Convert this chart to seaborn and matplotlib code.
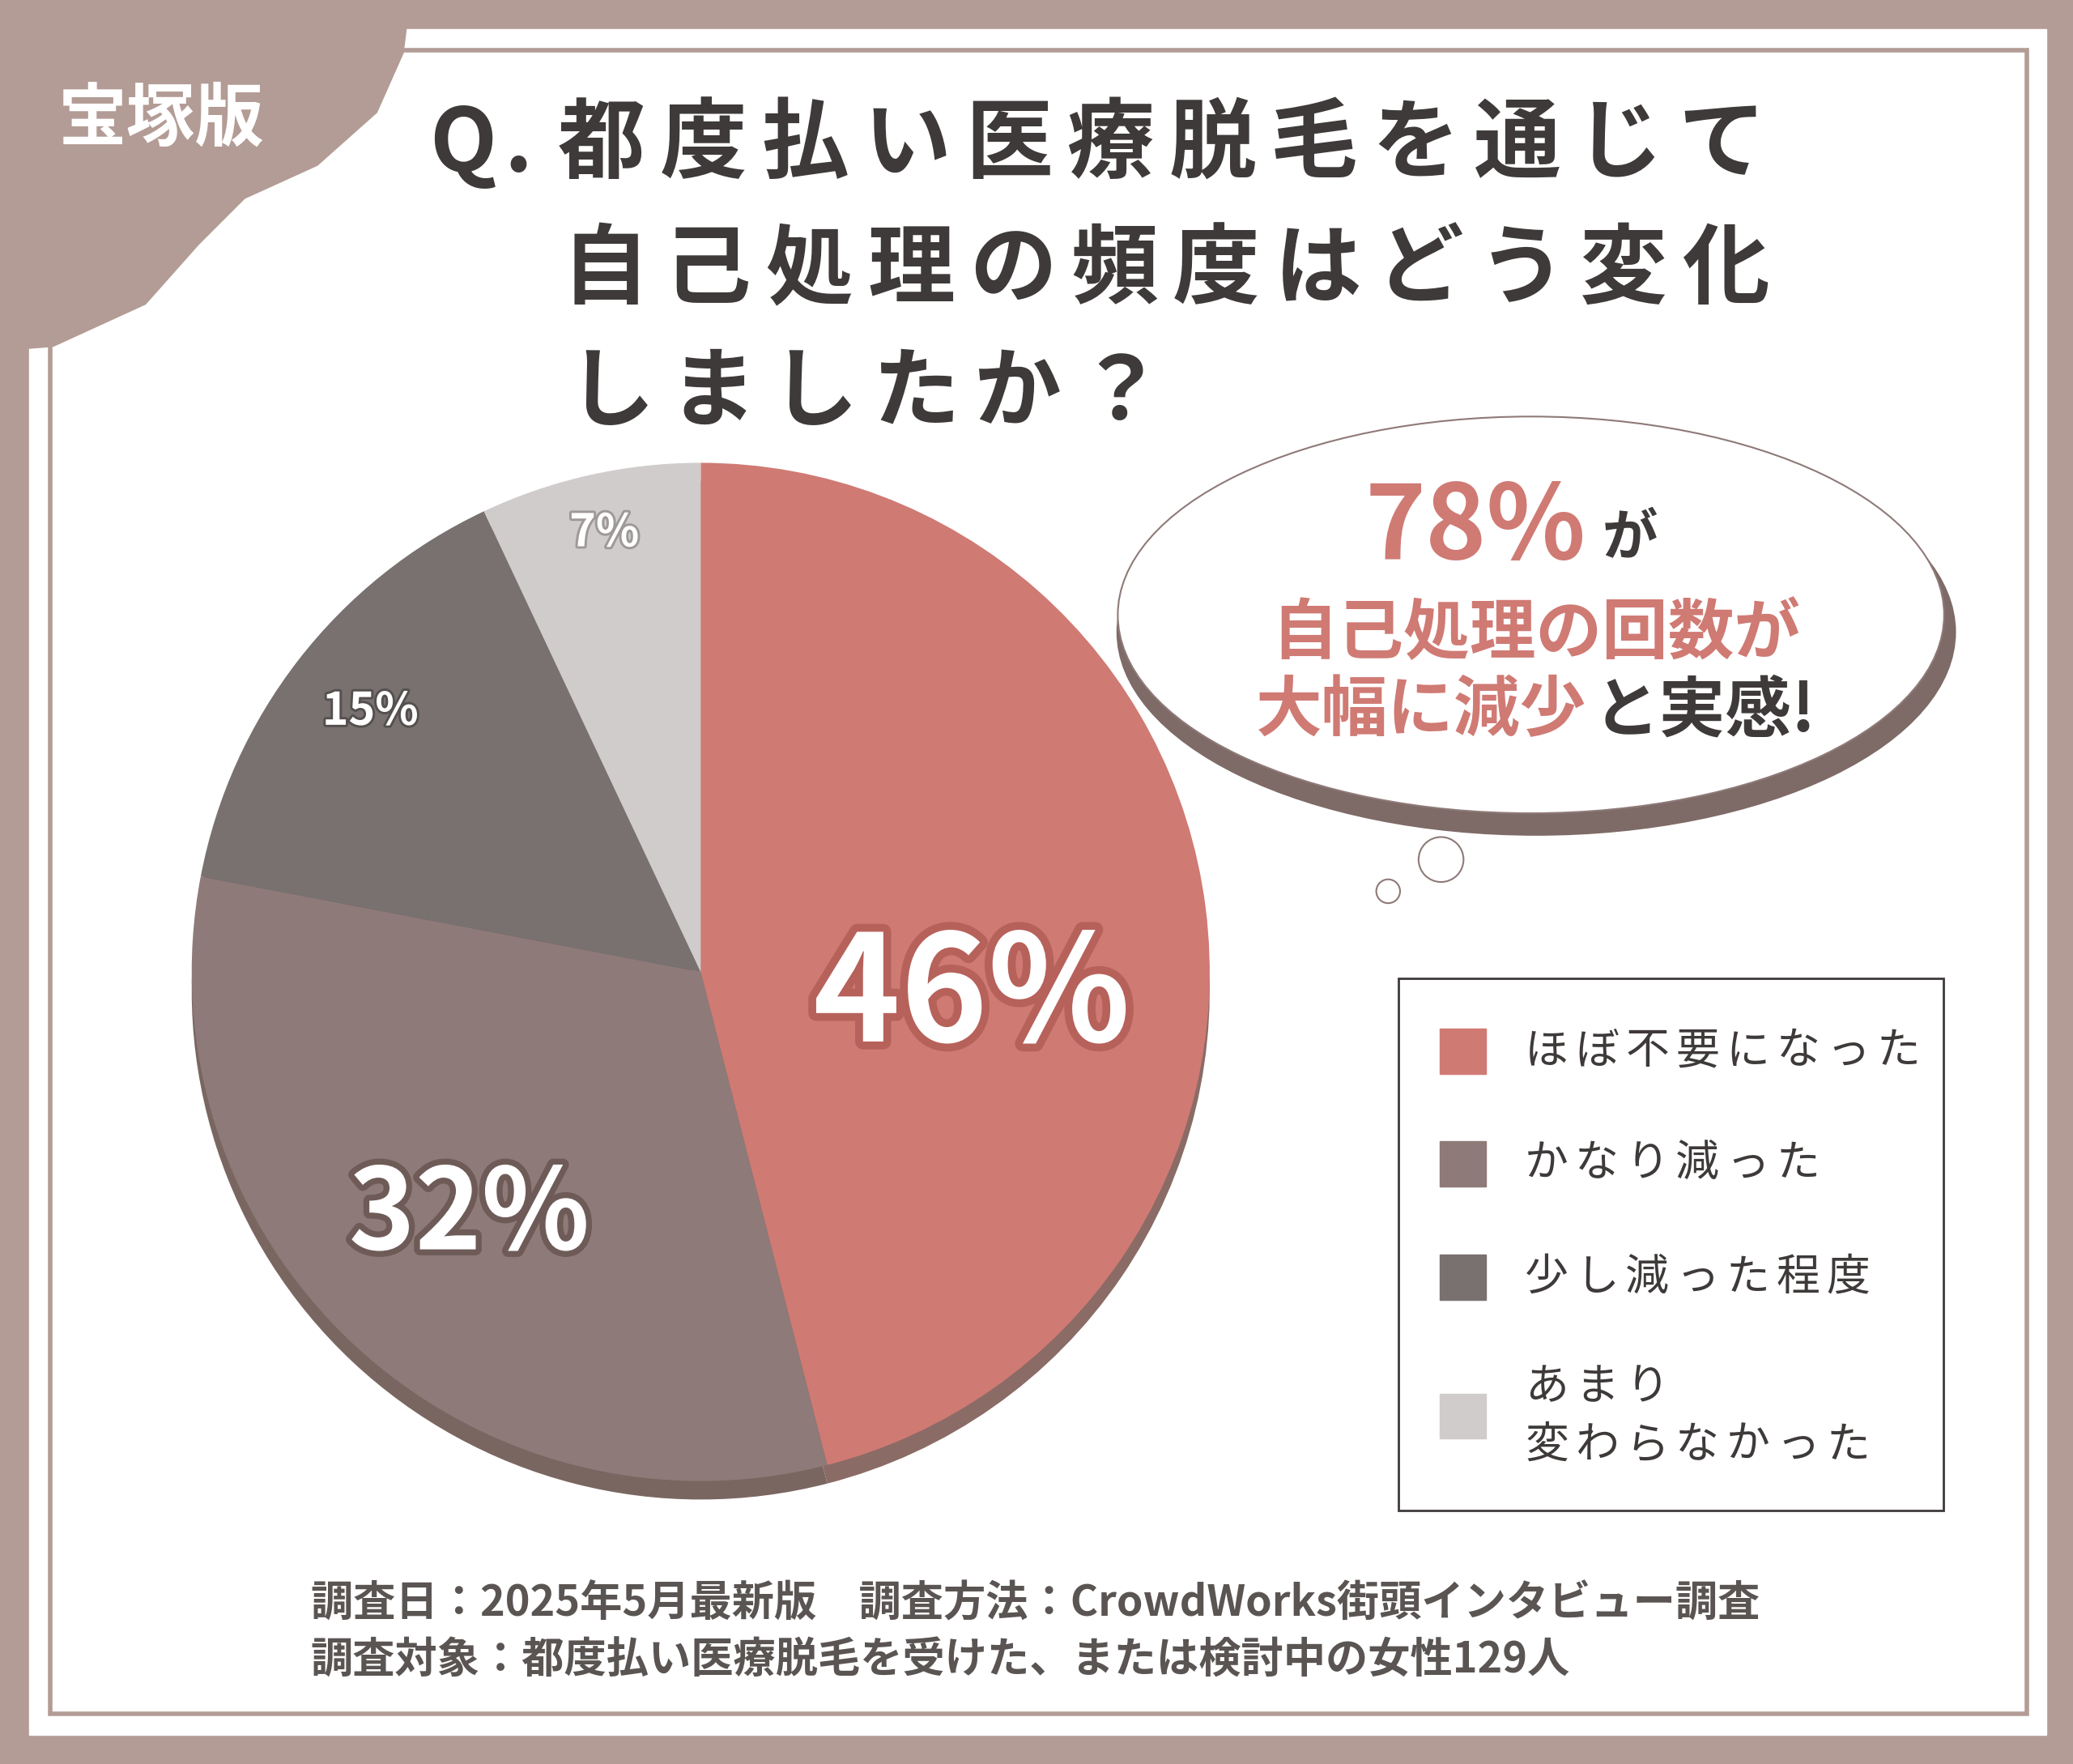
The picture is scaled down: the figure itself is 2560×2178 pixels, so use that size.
import matplotlib
matplotlib.use("Agg")
import matplotlib.pyplot as plt
import matplotlib.patches as mp
import matplotlib.patheffects as pe
import seaborn as sns

categories = ["ほぼ不要になった", "かなり減った", "少し減った程度", "あまり\n変わらなかった"]
values = [46, 32, 15, 7]
colors = ["#D07A74", "#8E7A78", "#787170", "#CFCCCB"]
shadow_colors = ["#8A6B66", "#7A6661", "#6A5F5C", "#A9A3A1"]

sns.set_theme(style="white", rc={"font.family": "Noto Sans CJK JP"})
S = 2560 / 1568
def fs(px): return px * S * 0.72

fig = plt.figure(figsize=(25.6, 21.78), dpi=100)
ax = fig.add_axes([0, 0, 1, 1])
ax.set_xlim(0, 1568); ax.set_ylim(1334, 0); ax.axis("off")
ax.set_aspect("equal")

def spaced(text, x0, y, step, **kw):
    for i, ch in enumerate(text):
        ax.text(x0 + i * step, y, ch, ha="center", va="center", **kw)

BR = "#B39C95"
ax.add_patch(mp.Rectangle((0, 0), 1568, 1334, color=BR, zorder=0))
ax.add_patch(mp.Rectangle((22, 22), 1526, 1290, color="white", zorder=0.1))
ax.add_patch(mp.Rectangle((38, 38), 1495, 1258, fill=False, ec=BR, lw=4, zorder=0.2))
blob = mp.Polygon([(0, 0), (310, 0), (305, 40), (285, 85), (240, 125), (185, 150),
                   (150, 185), (110, 230), (40, 262), (0, 265)], closed=True, color=BR, zorder=0.3)
ax.add_patch(blob)
ax.text(122, 90, "宝塚版", color="white", fontsize=fs(52), fontweight="bold", ha="center", va="center", zorder=5)

tc = "#3E3A39"
tkw = dict(fontsize=fs(66), fontweight="bold", color=tc)
spaced("Q.", 350, 110, 42, **tkw)
spaced("都度払い医療脱毛を通じて", 455, 110, 77, **tkw)
spaced("自己処理の頻度はどう変化", 458, 205, 77, **tkw)
spaced("しましたか？", 462, 298, 77, **tkw)

C = (530, 735); R = 385
ax.pie(values, colors=shadow_colors, startangle=-90, counterclock=True, center=(C[0], C[1] + 14),
       radius=R, wedgeprops=dict(linewidth=0))
wedges, _ = ax.pie(values, colors=colors, startangle=-90, counterclock=True, center=C,
                   radius=R, wedgeprops=dict(linewidth=0))
ax.set_xlim(0, 1568); ax.set_ylim(1334, 0); ax.set_aspect("equal")

lab = [("46%", 735, 755, 112, "#B7615B"), ("32%", 355, 920, 85, "#6E5B58"),
       ("15%", 280, 538, 34, "#55504F"), ("7%", 457, 403, 34, "#9E9997")]
for t, x, y, s, sc in lab:
    ax.text(x, y, t, fontsize=fs(s), fontweight="bold", color="white", ha="center", va="center",
            path_effects=[pe.withStroke(linewidth=s / 8, foreground=sc)], zorder=6)

ax.add_patch(mp.Ellipse((1162, 478), 635, 308, fc="#7E6A66", ec="none", zorder=2))
ax.add_patch(mp.Ellipse((1158, 465), 625, 300, fc="white", ec="#8E7A78", lw=1.5, zorder=2.1))
ax.add_patch(mp.Circle((1090, 650), 17, fc="white", ec="#8E7A78", lw=1.5, zorder=2.1))
ax.add_patch(mp.Circle((1050, 674), 9, fc="white", ec="#8E7A78", lw=1.5, zorder=2.1))
red = "#D07A74"
ax.text(1200, 400, "78%", fontsize=fs(78), fontweight="bold", color=red, ha="right", va="center", zorder=5)
ax.text(1212, 408, "が", fontsize=fs(42), fontweight="bold", color=tc, ha="left", va="center", zorder=5)
ax.text(1162, 480, "自己処理の回数が", fontsize=fs(50), fontweight="bold", color=red, ha="center", va="center", zorder=5)
ax.text(1200, 538, "大幅に減少", fontsize=fs(50), fontweight="bold", color=red, ha="right", va="center", zorder=5)
ax.text(1205, 538, "と実感!", fontsize=fs(50), fontweight="bold", color=tc, ha="left", va="center", zorder=5)

ax.add_patch(mp.Rectangle((1058, 740), 412, 402, fill=False, ec=tc, lw=2, zorder=3))
ys = [795, 880, 966, 1071]
for c, cat, y in zip(colors, categories, ys):
    ax.add_patch(mp.Rectangle((1089, y - 17), 35, 34, color=c, zorder=4))
    lines = cat.split("\n")
    for k, ln in enumerate(lines):
        yy = y + (k - (len(lines) - 1) / 2) * 44
        spaced(ln, 1170, yy, 38, fontsize=fs(33), color=tc, zorder=5)

ax.text(235, 1213, "調査日：2025年5月最新版　調査方法：CrowdWorks街頭インタビュー調査",
        fontsize=fs(32), fontweight="bold", color="#5A5553", ha="left", va="center")
ax.text(235, 1256, "調査対象：都度払い医療脱毛を受けた、または検討中の女性129人",
        fontsize=fs(32), fontweight="bold", color="#5A5553", ha="left", va="center")

fig.savefig("out.png", dpi=100)
